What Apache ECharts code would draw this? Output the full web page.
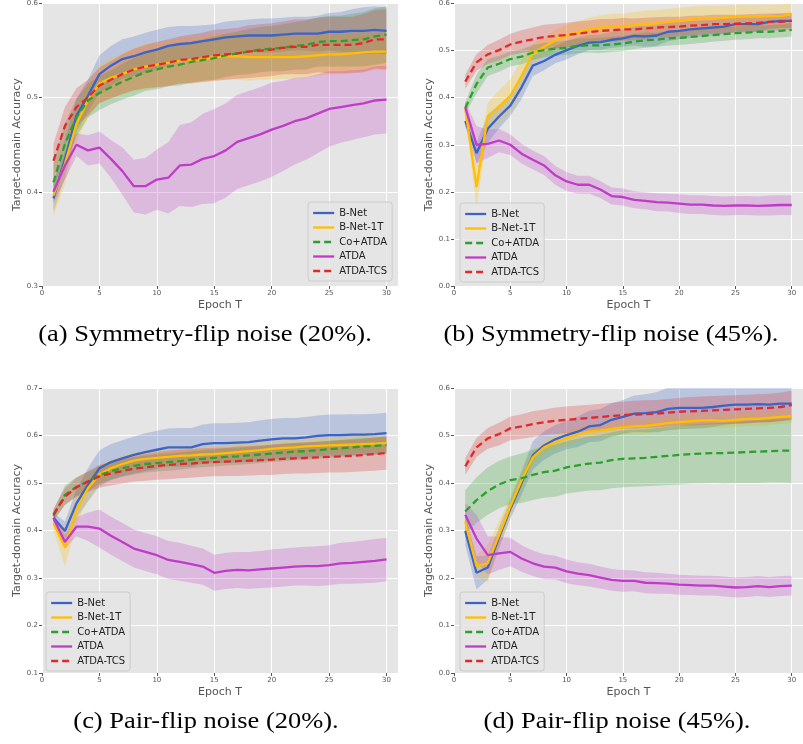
<!DOCTYPE html>
<html>
<head>
<meta charset="utf-8">
<script src="https://cdn.jsdelivr.net/npm/echarts@6/dist/echarts.min.js"></script>
<style>
  html, body { margin: 0; padding: 0; background: #fff; }
  #chart { width: 803px; height: 744px; }
</style>
</head>
<body>
<div id="chart"></div>
<script>
// epochs and tick values
const epochs = [1,2,3,4,5,6,7,8,9,10,11,12,13,14,15,16,17,18,19,20,21,22,23,24,25,26,27,28,29,30];
const xTicks = [0,5,10,15,20,25,30];
const methods = ['B-Net', 'B-Net-1T', 'Co+ATDA', 'ATDA', 'ATDA-TCS'];
const captions = ['(a) Symmetry-flip noise (20%).', '(b) Symmetry-flip noise (45%).',
                  '(c) Pair-flip noise (20%).', '(d) Pair-flip noise (45%).'];

// (a) symmetry-flip 20%
const aBNet   = [0.393,0.435,0.481,0.502,0.525,0.534,0.541,0.544,0.548,0.551,0.555,0.557,0.558,0.560,0.562,0.564,0.565,0.566,0.566,0.566,0.567,0.568,0.568,0.568,0.570,0.570,0.571,0.571,0.572,0.571];
const aBNet1T = [0.396,0.430,0.472,0.497,0.515,0.521,0.525,0.530,0.533,0.535,0.537,0.539,0.540,0.541,0.543,0.544,0.544,0.543,0.543,0.543,0.543,0.543,0.544,0.545,0.546,0.546,0.547,0.548,0.549,0.549];
const aCo     = [0.410,0.451,0.479,0.497,0.505,0.511,0.517,0.522,0.527,0.530,0.533,0.535,0.538,0.540,0.542,0.545,0.547,0.549,0.551,0.552,0.553,0.555,0.556,0.559,0.560,0.560,0.561,0.562,0.565,0.567];
const aAtda   = [0.400,0.428,0.450,0.444,0.447,0.435,0.422,0.406,0.406,0.413,0.415,0.428,0.429,0.435,0.438,0.444,0.453,0.457,0.461,0.466,0.470,0.475,0.478,0.483,0.488,0.490,0.492,0.494,0.497,0.498];
const aTcs    = [0.433,0.470,0.490,0.500,0.513,0.519,0.525,0.530,0.533,0.535,0.537,0.540,0.541,0.543,0.545,0.546,0.547,0.549,0.550,0.551,0.553,0.554,0.554,0.556,0.556,0.556,0.556,0.558,0.562,0.562];
const aBNetSd   = [0.014,0.020,0.018,0.017,0.020,0.021,0.021,0.021,0.021,0.021,0.020,0.019,0.018,0.017,0.016,0.017,0.017,0.017,0.018,0.018,0.018,0.018,0.018,0.019,0.020,0.021,0.023,0.025,0.025,0.025];
const aBNet1TSd = [0.022,0.022,0.020,0.018,0.020,0.021,0.022,0.023,0.024,0.024,0.024,0.024,0.024,0.025,0.025,0.025,0.025,0.025,0.024,0.024,0.023,0.023,0.022,0.022,0.021,0.021,0.020,0.020,0.020,0.020];
const aCoSd     = [0.020,0.022,0.020,0.018,0.018,0.018,0.019,0.020,0.020,0.021,0.021,0.022,0.022,0.022,0.023,0.023,0.023,0.024,0.024,0.024,0.025,0.025,0.026,0.026,0.027,0.027,0.028,0.029,0.030,0.030];
const aAtdaSd   = [0.012,0.015,0.012,0.016,0.017,0.020,0.025,0.028,0.030,0.032,0.038,0.043,0.045,0.048,0.050,0.050,0.050,0.050,0.050,0.050,0.048,0.046,0.044,0.042,0.040,0.038,0.037,0.036,0.036,0.036];
const aTcsSd    = [0.018,0.020,0.020,0.019,0.019,0.020,0.021,0.022,0.023,0.024,0.025,0.025,0.026,0.026,0.027,0.027,0.027,0.028,0.028,0.028,0.028,0.029,0.029,0.029,0.030,0.030,0.030,0.031,0.031,0.032];

// (b) symmetry-flip 45%
const bBNet   = [0.350,0.282,0.334,0.360,0.383,0.422,0.468,0.478,0.491,0.501,0.510,0.517,0.518,0.523,0.526,0.531,0.530,0.532,0.540,0.542,0.545,0.547,0.549,0.551,0.556,0.556,0.556,0.561,0.563,0.563];
const bBNet1T = [0.377,0.210,0.360,0.381,0.404,0.446,0.494,0.508,0.522,0.532,0.539,0.545,0.549,0.551,0.552,0.554,0.557,0.558,0.561,0.563,0.566,0.568,0.568,0.570,0.571,0.572,0.572,0.573,0.573,0.577];
const bCo     = [0.378,0.429,0.464,0.472,0.482,0.487,0.496,0.501,0.504,0.506,0.510,0.511,0.511,0.513,0.515,0.519,0.522,0.523,0.526,0.527,0.529,0.531,0.533,0.535,0.537,0.538,0.540,0.540,0.542,0.544];
const bAtda   = [0.380,0.300,0.302,0.309,0.300,0.281,0.268,0.256,0.235,0.222,0.215,0.215,0.205,0.191,0.189,0.183,0.181,0.178,0.177,0.175,0.173,0.173,0.171,0.170,0.171,0.171,0.170,0.171,0.172,0.172];
const bTcs    = [0.434,0.475,0.492,0.501,0.513,0.519,0.524,0.529,0.531,0.533,0.536,0.539,0.542,0.543,0.545,0.545,0.547,0.549,0.550,0.551,0.553,0.554,0.556,0.556,0.557,0.558,0.559,0.561,0.561,0.563];
const bBNetSd   = [0.010,0.022,0.030,0.025,0.022,0.025,0.022,0.020,0.018,0.020,0.018,0.016,0.016,0.017,0.018,0.020,0.022,0.022,0.020,0.018,0.018,0.017,0.017,0.016,0.016,0.016,0.016,0.015,0.015,0.015];
const bBNet1TSd = [0.015,0.045,0.030,0.035,0.035,0.035,0.020,0.020,0.022,0.023,0.024,0.025,0.026,0.027,0.027,0.028,0.028,0.028,0.028,0.028,0.027,0.027,0.027,0.026,0.026,0.026,0.025,0.025,0.025,0.025];
const bCoSd     = [0.012,0.020,0.018,0.017,0.016,0.016,0.016,0.015,0.015,0.015,0.015,0.015,0.016,0.016,0.016,0.016,0.016,0.015,0.015,0.015,0.015,0.015,0.014,0.014,0.014,0.014,0.014,0.014,0.014,0.014];
const bAtdaSd   = [0.012,0.040,0.030,0.025,0.022,0.021,0.020,0.020,0.020,0.020,0.019,0.019,0.018,0.018,0.018,0.018,0.018,0.019,0.019,0.020,0.020,0.020,0.020,0.020,0.020,0.020,0.020,0.021,0.021,0.021];
const bTcsSd    = [0.015,0.018,0.020,0.022,0.023,0.024,0.025,0.026,0.026,0.026,0.026,0.025,0.025,0.024,0.024,0.023,0.023,0.022,0.022,0.021,0.021,0.020,0.020,0.020,0.019,0.019,0.019,0.018,0.018,0.018];

// (c) pair-flip 20%
const cBNet   = [0.427,0.399,0.457,0.496,0.531,0.544,0.552,0.559,0.565,0.570,0.575,0.575,0.575,0.582,0.584,0.584,0.585,0.586,0.589,0.592,0.594,0.594,0.596,0.599,0.601,0.601,0.602,0.602,0.603,0.605];
const cBNet1T = [0.415,0.364,0.443,0.489,0.518,0.531,0.540,0.547,0.551,0.553,0.555,0.557,0.558,0.560,0.561,0.563,0.565,0.567,0.569,0.572,0.574,0.575,0.577,0.578,0.579,0.580,0.581,0.582,0.583,0.584];
const cCo     = [0.431,0.475,0.492,0.503,0.517,0.525,0.531,0.536,0.540,0.542,0.544,0.546,0.549,0.551,0.553,0.555,0.556,0.558,0.560,0.562,0.564,0.566,0.567,0.569,0.571,0.573,0.575,0.577,0.578,0.580];
const cAtda   = [0.426,0.376,0.408,0.408,0.404,0.389,0.376,0.362,0.355,0.348,0.338,0.334,0.329,0.324,0.311,0.315,0.317,0.316,0.318,0.320,0.322,0.324,0.325,0.325,0.327,0.331,0.332,0.334,0.336,0.339];
const cTcs    = [0.434,0.471,0.491,0.503,0.514,0.520,0.525,0.530,0.533,0.536,0.538,0.540,0.541,0.543,0.544,0.545,0.546,0.547,0.548,0.549,0.551,0.552,0.553,0.554,0.555,0.556,0.557,0.559,0.561,0.563];
const cBNetSd   = [0.010,0.020,0.030,0.035,0.038,0.038,0.038,0.039,0.040,0.040,0.040,0.041,0.041,0.041,0.042,0.042,0.042,0.042,0.043,0.043,0.043,0.043,0.043,0.043,0.043,0.043,0.043,0.043,0.043,0.043];
const cBNet1TSd = [0.015,0.040,0.030,0.025,0.020,0.018,0.017,0.017,0.017,0.017,0.017,0.017,0.017,0.017,0.017,0.017,0.017,0.017,0.017,0.017,0.017,0.017,0.017,0.017,0.017,0.017,0.017,0.017,0.017,0.017];
const cCoSd     = [0.012,0.020,0.020,0.020,0.019,0.018,0.018,0.018,0.018,0.018,0.018,0.018,0.018,0.018,0.018,0.018,0.018,0.018,0.018,0.018,0.018,0.018,0.018,0.018,0.018,0.018,0.018,0.018,0.018,0.018];
const cAtdaSd   = [0.010,0.015,0.020,0.030,0.040,0.040,0.040,0.040,0.040,0.040,0.040,0.040,0.039,0.038,0.038,0.038,0.038,0.039,0.039,0.040,0.040,0.040,0.041,0.042,0.042,0.043,0.044,0.045,0.046,0.046];
const cTcsSd    = [0.012,0.018,0.020,0.022,0.024,0.025,0.026,0.027,0.028,0.029,0.030,0.030,0.030,0.030,0.030,0.030,0.031,0.031,0.031,0.032,0.032,0.032,0.033,0.033,0.033,0.034,0.034,0.034,0.035,0.035];

// (d) pair-flip 45%
const dBNet   = [0.299,0.211,0.222,0.285,0.345,0.400,0.458,0.479,0.492,0.501,0.508,0.519,0.522,0.533,0.539,0.546,0.547,0.549,0.556,0.558,0.558,0.558,0.560,0.563,0.565,0.565,0.566,0.565,0.567,0.567];
const dBNet1T = [0.319,0.225,0.231,0.290,0.350,0.405,0.454,0.475,0.486,0.494,0.502,0.508,0.510,0.514,0.517,0.519,0.520,0.523,0.526,0.528,0.530,0.532,0.532,0.531,0.533,0.535,0.535,0.537,0.539,0.541];
const dCo     = [0.340,0.364,0.383,0.397,0.406,0.410,0.417,0.423,0.426,0.433,0.437,0.441,0.443,0.448,0.451,0.452,0.453,0.455,0.457,0.459,0.461,0.462,0.463,0.463,0.464,0.465,0.466,0.467,0.468,0.468];
const dAtda   = [0.333,0.283,0.248,0.252,0.255,0.241,0.231,0.224,0.222,0.214,0.209,0.206,0.201,0.196,0.194,0.194,0.190,0.189,0.188,0.186,0.185,0.184,0.184,0.182,0.180,0.181,0.183,0.181,0.183,0.184];
const dTcs    = [0.435,0.475,0.494,0.503,0.515,0.519,0.524,0.528,0.531,0.533,0.535,0.537,0.539,0.541,0.543,0.544,0.545,0.546,0.548,0.550,0.551,0.552,0.553,0.554,0.555,0.556,0.557,0.558,0.560,0.564];
const dBNetSd   = [0.030,0.035,0.025,0.022,0.020,0.025,0.030,0.030,0.030,0.030,0.032,0.033,0.034,0.035,0.036,0.038,0.040,0.042,0.045,0.045,0.044,0.043,0.042,0.041,0.040,0.039,0.038,0.037,0.036,0.035];
const dBNet1TSd = [0.020,0.022,0.040,0.030,0.022,0.020,0.016,0.015,0.015,0.015,0.015,0.015,0.015,0.015,0.015,0.015,0.015,0.015,0.015,0.015,0.015,0.015,0.015,0.015,0.015,0.015,0.015,0.015,0.015,0.015];
const dCoSd     = [0.045,0.048,0.050,0.050,0.050,0.052,0.053,0.054,0.055,0.055,0.056,0.057,0.058,0.059,0.060,0.060,0.060,0.061,0.061,0.062,0.062,0.063,0.063,0.064,0.064,0.065,0.066,0.066,0.067,0.068];
const dAtdaSd   = [0.025,0.050,0.040,0.035,0.030,0.028,0.027,0.026,0.025,0.025,0.024,0.024,0.023,0.023,0.023,0.022,0.022,0.022,0.021,0.021,0.021,0.021,0.021,0.021,0.021,0.021,0.021,0.021,0.021,0.021];
const dTcsSd    = [0.018,0.020,0.022,0.024,0.025,0.026,0.027,0.027,0.028,0.028,0.028,0.028,0.028,0.028,0.028,0.029,0.029,0.029,0.029,0.029,0.030,0.030,0.030,0.030,0.030,0.030,0.030,0.030,0.030,0.030];

const colors = ['#3c63c6', '#ffbf00', '#2ca02c', '#c03cc8', '#df2a2a'];
const dashed = [false, false, true, false, true];

const panels = [
  {means: [aBNet, aBNet1T, aCo, aAtda, aTcs], sds: [aBNetSd, aBNet1TSd, aCoSd, aAtdaSd, aTcsSd],
   yMin: 0.3, yMax: 0.6, grid: {left: 42, top: 2, width: 356, height: 284},
   legend: {left: 308, top: 202}, cap: {x: 205, y: 335}},
  {means: [bBNet, bBNet1T, bCo, bAtda, bTcs], sds: [bBNetSd, bBNet1TSd, bCoSd, bAtdaSd, bTcsSd],
   yMin: 0, yMax: 0.6, grid: {left: 454, top: 2, width: 356, height: 284},
   legend: {left: 460, top: 203}, cap: {x: 611, y: 335}},
  {means: [cBNet, cBNet1T, cCo, cAtda, cTcs], sds: [cBNetSd, cBNet1TSd, cCoSd, cAtdaSd, cTcsSd],
   yMin: 0.1, yMax: 0.7, grid: {left: 42, top: 388, width: 356, height: 285},
   legend: {left: 46, top: 592}, cap: {x: 206, y: 722}},
  {means: [dBNet, dBNet1T, dCo, dAtda, dTcs], sds: [dBNetSd, dBNet1TSd, dCoSd, dAtdaSd, dTcsSd],
   yMin: 0, yMax: 0.6, grid: {left: 454, top: 388, width: 356, height: 285},
   legend: {left: 460, top: 592}, cap: {x: 617, y: 722}}
];

const tickColor = '#555';
const font = 'DejaVu Sans';

const grids = [], xAxes = [], yAxes = [], legends = [], series = [], graphics = [];

panels.forEach((p, i) => {
  grids.push(Object.assign({show: true, backgroundColor: '#e5e5e5', borderWidth: 0}, p.grid));
  xAxes.push({
    type: 'value', gridIndex: i, min: 0, max: 31, interval: 5,
    name: 'Epoch T', nameLocation: 'middle', nameGap: 14,
    nameTextStyle: {fontSize: 11, color: tickColor, fontFamily: font},
    axisLine: {show: false},
    axisTick: {show: true, length: 3, customValues: xTicks, lineStyle: {color: tickColor}},
    axisLabel: {fontSize: 7, color: tickColor, fontFamily: font, margin: 4, customValues: xTicks},
    splitLine: {show: true, lineStyle: {color: '#fff', width: 1}}
  });
  yAxes.push({
    type: 'value', gridIndex: i, min: p.yMin, max: p.yMax, interval: 0.1,
    name: 'Target-domain Accuracy', nameLocation: 'middle', nameGap: 19,
    nameTextStyle: {fontSize: 11, color: tickColor, fontFamily: font},
    axisLine: {show: false},
    axisTick: {show: true, length: 3, lineStyle: {color: tickColor}},
    axisLabel: {fontSize: 7, color: tickColor, fontFamily: font, margin: 4,
                formatter: v => v.toFixed(1)},
    splitLine: {show: true, lineStyle: {color: '#fff', width: 1}}
  });
  legends.push({
    data: methods, orient: 'vertical', left: p.legend.left, top: p.legend.top,
    itemWidth: 21, itemHeight: 10, itemGap: 4.5,
    padding: [6, 5, 5, 4],
    itemStyle: {opacity: 0},
    lineStyle: {width: 2.3},
    backgroundColor: 'rgba(229,229,229,0.8)', borderColor: '#cccccc', borderWidth: 1, borderRadius: 3,
    textStyle: {fontSize: 10, color: '#222', fontFamily: font},
    selectedMode: false
  });

  // mean +/- sd bands as filled polygons (one per method)
  methods.forEach((m, j) => {
    const mean = p.means[j], sd = p.sds[j];
    const rows = epochs.map((e, k) => [e, mean[k] - sd[k], mean[k] + sd[k]]);
    series.push({
      type: 'custom', xAxisIndex: i, yAxisIndex: i, z: 1, silent: true,
      data: rows, encode: {x: 0, y: [1, 2]},
      renderItem: (params, api) => {
        if (params.dataIndex !== 0) return;
        const upper = rows.map(r => api.coord([r[0], r[2]]));
        const lower = rows.map(r => api.coord([r[0], r[1]])).reverse();
        const cs = params.coordSys;
        return {
          type: 'polygon',
          shape: {points: upper.concat(lower)},
          style: {fill: colors[j], opacity: 0.25},
          clipPath: {type: 'rect', shape: {x: cs.x, y: cs.y, width: cs.width, height: cs.height}}
        };
      }
    });
  });
  methods.forEach((m, j) => {
    series.push({
      name: m, type: 'line', xAxisIndex: i, yAxisIndex: i, symbol: 'none', z: 3,
      itemStyle: {color: colors[j]},
      lineStyle: {color: colors[j], width: 2.3, type: dashed[j] ? [7, 4] : 'solid'},
      data: epochs.map((e, k) => [e, p.means[j][k]])
    });
  });

  graphics.push({
    type: 'text', x: p.cap.x, y: p.cap.y, scaleX: 1.15,
    style: {text: captions[i], fontSize: 23, fontFamily: 'Liberation Serif', fill: '#000',
            align: 'center', verticalAlign: 'middle'}
  });
});

const chart = echarts.init(document.getElementById('chart'));
chart.setOption({
  animation: false,
  grid: grids, xAxis: xAxes, yAxis: yAxes, legend: legends,
  series: series, graphic: graphics
});
</script>
</body>
</html>
